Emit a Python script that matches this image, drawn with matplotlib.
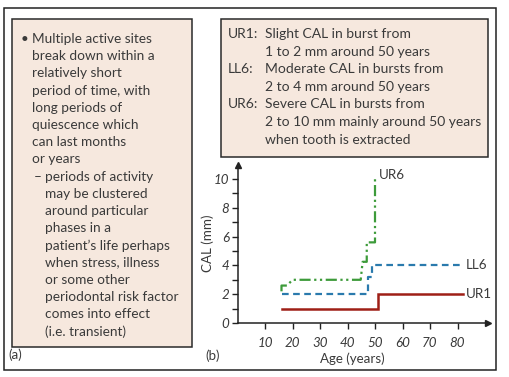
import matplotlib
matplotlib.use("Agg")
import matplotlib.pyplot as plt
from matplotlib.patches import Rectangle

W, H = 509, 377

# --- Data ---
ur1_age = [16, 51, 51, 82]
ur1_cal = [1.0, 1.0, 2.0, 2.0]

ll6_age = [16, 47.3, 47.3, 48.8, 48.8, 82]
ll6_cal = [2.0, 2.0, 3.2, 3.2, 4.0, 4.0]

ur6_age = [16, 16, 18, 20, 44.8, 45.5, 47, 47, 50, 50]
ur6_cal = [2.2, 2.6, 2.6, 3.0, 3.0, 4.25, 4.25, 5.6, 5.6, 10.1]

x_ticks = [10, 20, 30, 40, 50, 60, 70, 80]
y_ticks = [0, 2, 4, 6, 8, 10]

left_lines = [
    "Multiple active sites",
    "break down within a",
    "relatively short",
    "period of time, with",
    "long periods of",
    "quiescence which",
    "can last months",
    "or years",
]
left_sub_lines = [
    "periods of activity",
    "may be clustered",
    "around particular",
    "phases in a",
    "patient\u2019s life perhaps",
    "when stress, illness",
    "or some other",
    "periodontal risk factor",
    "comes into effect",
    "(i.e. transient)",
]
legend_keys = ["UR1:", "", "LL6:", "", "UR6:", "", ""]
legend_lines = [
    "Slight CAL in burst from",
    "1 to 2 mm around 50 years",
    "Moderate CAL in bursts from",
    "2 to 4 mm around 50 years",
    "Severe CAL in bursts from",
    "2 to 10 mm mainly around 50 years",
    "when tooth is extracted",
]

TEXT = "#3a3a3a"
BOX_FACE = "#f6e8de"
FONT = "Lato"
FS = 9.6
FS_LEFT = 9.8
FS_RIGHT = 10.0

plt.rcParams["font.family"] = [FONT, "DejaVu Sans"]


def fx(px):
    return px / W


def fy(py):
    return 1 - py / H


fig = plt.figure(figsize=(W / 100, H / 100), dpi=100)

# outer frame and boxes
fig.add_artist(Rectangle((fx(4), fy(370)), fx(496) - fx(4), fy(8) - fy(370),
                         transform=fig.transFigure, fill=False, ec="#222222", lw=1.1))
fig.add_artist(Rectangle((fx(12), fy(347)), fx(192) - fx(12), fy(19) - fy(347),
                         transform=fig.transFigure, fc=BOX_FACE, ec="#2a2a2a", lw=1.1))
fig.add_artist(Rectangle((fx(221), fy(157)), fx(488) - fx(221), fy(19) - fy(157),
                         transform=fig.transFigure, fc=BOX_FACE, ec="#2a2a2a", lw=1.1))

# left panel text
step = 17.2
y0 = 39
fig.text(fx(21), fy(y0), "\u2022", fontsize=FS_LEFT, color=TEXT, va="center")
for i, line in enumerate(left_lines):
    fig.text(fx(32), fy(y0 + i * step), line, fontsize=FS_LEFT, color=TEXT, va="center")
ys = y0 + len(left_lines) * step
fig.text(fx(34), fy(ys), "\u2013", fontsize=FS_LEFT, color=TEXT, va="center")
for i, line in enumerate(left_sub_lines):
    fig.text(fx(45), fy(ys + i * step), line, fontsize=FS_LEFT, color=TEXT, va="center")

# right box text
ry0 = 34
rstep = 17.6
for i, (key, line) in enumerate(zip(legend_keys, legend_lines)):
    yy = fy(ry0 + i * rstep)
    if key:
        fig.text(fx(228), yy, key, fontsize=FS_RIGHT, color=TEXT, va="center")
    fig.text(fx(265), yy, line, fontsize=FS_RIGHT, color=TEXT, va="center")

fig.text(fx(8), fy(355), "(a)", fontsize=FS, color=TEXT, va="center")
fig.text(fx(205), fy(356), "(b)", fontsize=FS, color=TEXT, va="center")

# --- Chart ---
ax = fig.add_axes([237.5 / W, (H - 323) / H, 250.25 / W, 158.4 / H])
ax.set_xlim(0, 91)
ax.set_ylim(0, 11)
ax.patch.set_alpha(0)

ax.plot(ur1_age, ur1_cal, color="#9e1f16", lw=1.8, solid_joinstyle="miter")
ax.plot(ll6_age, ll6_cal, color="#2a7aad", lw=1.6, dashes=(3, 2))
ax.plot(ur6_age, ur6_cal, color="#3d9b3a", lw=1.6, dashes=(5, 1.6, 1, 1.6, 1, 1.6))

ax.text(83, 2.0, "UR1", fontsize=FS, color=TEXT, va="center")
ax.text(83, 4.0, "LL6", fontsize=FS, color=TEXT, va="center")
ax.text(51.5, 10.3, "UR6", fontsize=FS, color=TEXT, va="center")

for s in ["top", "right"]:
    ax.spines[s].set_visible(False)
for s in ["left", "bottom"]:
    ax.spines[s].set_linewidth(1.1)
    ax.spines[s].set_color("#222222")

ax.plot(1, 0, ">", color="#222222", ms=5, transform=ax.get_yaxis_transform(), clip_on=False)
ax.plot(0, 1, "^", color="#222222", ms=5, transform=ax.get_xaxis_transform(), clip_on=False)

ax.set_xticks(x_ticks)
ax.set_yticks(y_ticks)
ax.set_yticks(range(1, 11), minor=True)
ax.tick_params(axis="x", direction="out", length=4, width=1, pad=6, colors="#222222",
               labelcolor=TEXT, labelsize=FS)
ax.tick_params(axis="y", which="both", direction="out", length=4, width=1, pad=2,
               colors="#222222", labelcolor=TEXT, labelsize=FS)
for lab in ax.get_xticklabels() + ax.get_yticklabels():
    lab.set_style("italic")

fig.text(fx(208), fy(243), "CAL (mm)", fontsize=FS, color=TEXT, rotation=90,
         ha="center", va="center")
fig.text(fx(352), fy(359), "Age (years)", fontsize=FS, color=TEXT, ha="center", va="center")

fig.savefig("out.png", dpi=100)
